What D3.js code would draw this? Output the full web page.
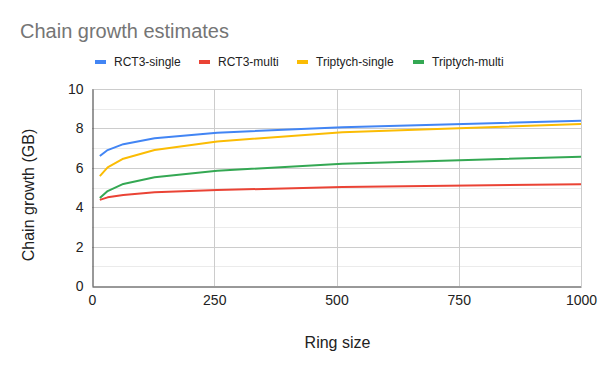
<!DOCTYPE html>
<html>
<head>
<meta charset="utf-8">
<script src="https://cdn.jsdelivr.net/npm/d3@7"></script>
<style>
  body { margin: 0; background: #fff; }
  svg { font-family: "Liberation Sans", Arial, sans-serif; }
</style>
</head>
<body>
<div class="container"></div>
<script>
let width = 600
let height = 371
let margin = {
    left: 92,
    right: 19,
    top: 89,
    bottom: 85
}

// ring sizes (x) and chain growth in GB for each series
const ringSizes = [16, 32, 64, 128, 256, 512, 1024]
const rct3Single = [6.6, 6.9, 7.2, 7.5, 7.78, 8.06, 8.4]
const rct3Multi = [4.37, 4.5, 4.62, 4.76, 4.87, 5.03, 5.17]
const triptychSingle = [5.58, 6.02, 6.46, 6.9, 7.34, 7.8, 8.24]
const triptychMulti = [4.47, 4.82, 5.18, 5.52, 5.85, 6.21, 6.58]

const seriesNames = ['RCT3-single', 'RCT3-multi', 'Triptych-single', 'Triptych-multi']
const colours = ['#4285f4', '#ea4335', '#fbbc04', '#34a853']
const xTicks = [0, 250, 500, 750, 1000]
const yTicks = [0, 2, 4, 6, 8, 10]

let series = [rct3Single, rct3Multi, triptychSingle, triptychMulti]

let svg = d3.select('.container')
    .append('svg')
    .attr('width', width)
    .attr('height', height)

let xScale = d3.scaleLinear()
    .domain([0, 1000])
    .range([margin.left, width - margin.right])

let yScale = d3.scaleLinear()
    .domain([0, 10])
    .range([height - margin.bottom, margin.top])

// minor gridlines
svg.append('g')
    .selectAll('line')
    .data(d3.range(1, 10, 2))
    .enter()
    .append('line')
    .attr('x1', margin.left)
    .attr('x2', width - margin.right)
    .attr('y1', (d) => Math.round(yScale(d)) + 0.5)
    .attr('y2', (d) => Math.round(yScale(d)) + 0.5)
    .attr('stroke', '#ebebeb')

// major gridlines
svg.append('g')
    .selectAll('line')
    .data(yTicks.slice(1))
    .enter()
    .append('line')
    .attr('x1', margin.left)
    .attr('x2', width - margin.right)
    .attr('y1', (d) => Math.round(yScale(d)) + 0.5)
    .attr('y2', (d) => Math.round(yScale(d)) + 0.5)
    .attr('stroke', '#cccccc')

svg.append('g')
    .selectAll('line')
    .data(xTicks.slice(1))
    .enter()
    .append('line')
    .attr('x1', (d) => Math.round(xScale(d)) + 0.5)
    .attr('x2', (d) => Math.round(xScale(d)) + 0.5)
    .attr('y1', margin.top)
    .attr('y2', height - margin.bottom)
    .attr('stroke', '#cccccc')

// axes
let xAxis = d3.axisBottom(xScale)
    .tickValues(xTicks)
    .tickSize(0)
    .tickPadding(9)
    .tickFormat(d3.format(''))

let yAxis = d3.axisLeft(yScale)
    .tickValues(yTicks)
    .tickSize(0)
    .tickPadding(9)

let gx = svg.append('g')
    .attr('transform', `translate(0,${Math.round(yScale(0)) + 0.5})`)
    .call(xAxis)
gx.select('.domain').attr('stroke', '#333')
gx.selectAll('text').attr('font-size', 14).attr('fill', '#222').attr('font-family', '"Liberation Sans", Arial, sans-serif')

let gy = svg.append('g')
    .attr('transform', `translate(${Math.round(xScale(0)) + 0.5},0)`)
    .call(yAxis)
gy.select('.domain').attr('stroke', '#333')
gy.selectAll('text').attr('font-size', 14).attr('fill', '#222').attr('font-family', '"Liberation Sans", Arial, sans-serif')

// lines
svg.append('clipPath')
    .attr('id', 'plot-clip')
    .append('rect')
    .attr('x', margin.left)
    .attr('y', margin.top - 5)
    .attr('width', width - margin.left - margin.right)
    .attr('height', height - margin.top - margin.bottom + 5)

let line = d3.line()
    .x((d, i) => xScale(ringSizes[i]))
    .y((d) => yScale(d))

svg.append('g')
    .attr('clip-path', 'url(#plot-clip)')
    .selectAll('path')
    .data(series)
    .enter()
    .append('path')
    .attr('d', line)
    .attr('fill', 'none')
    .attr('stroke', (d, i) => colours[i])
    .attr('stroke-width', 2)
    .attr('stroke-linejoin', 'round')

// title
svg.append('text')
    .attr('x', 20)
    .attr('y', 38)
    .attr('font-size', 20)
    .attr('fill', '#757575')
    .text('Chain growth estimates')

// legend
const legendX = [95, 199, 297, 413]
let legend = svg.append('g')
    .selectAll('g')
    .data(seriesNames)
    .enter()
    .append('g')
    .attr('transform', (d, i) => `translate(${legendX[i]},62)`)

legend.append('rect')
    .attr('x', 0)
    .attr('y', -2)
    .attr('width', 11)
    .attr('height', 4)
    .attr('fill', (d, i) => colours[i])

legend.append('text')
    .attr('x', 19)
    .attr('y', 4)
    .attr('font-size', 12)
    .attr('fill', '#222')
    .text((d) => d)

// axis titles
svg.append('text')
    .attr('x', 337.5)
    .attr('y', 348)
    .attr('text-anchor', 'middle')
    .attr('font-size', 16)
    .attr('fill', '#222')
    .text('Ring size')

svg.append('text')
    .attr('transform', 'translate(34,195) rotate(-90)')
    .attr('text-anchor', 'middle')
    .attr('font-size', 16)
    .attr('fill', '#222')
    .text('Chain growth (GB)')
</script>
</body>
</html>
